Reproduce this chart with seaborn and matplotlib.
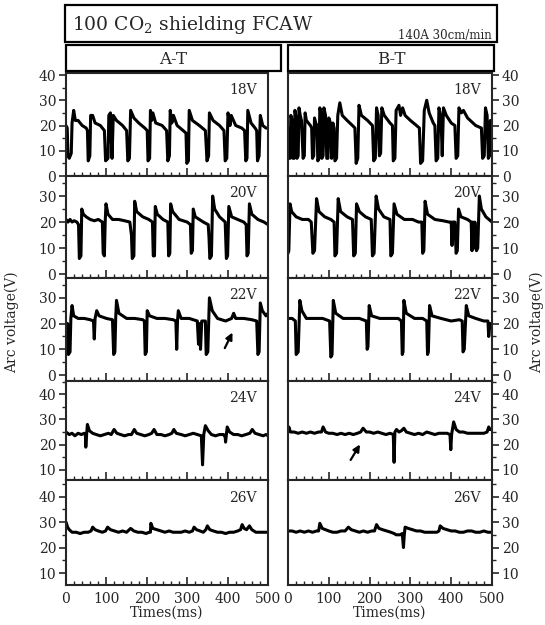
# arc voltage waveforms, A-T vs B-T wire, 18-26V
import matplotlib
matplotlib.use('Agg')
import matplotlib.pyplot as plt
from matplotlib.patches import Rectangle
from matplotlib.ticker import MultipleLocator
import seaborn as sns

sns.set_style('ticks')
plt.rcParams['font.family'] = ['DejaVu Serif']
plt.rcParams['mathtext.fontset'] = 'dejavuserif'

#%% data (time ms, voltage V)
volt_labels = ['18V', '20V', '22V', '24V', '26V']

a18 = [(0,20),(3,19),(5,8),(8,7),(13,9),(15,21),(19,26),(23,22),(30,22),(40,20),(50,19),(53,18),(55,6),(59,8),
       (61,24),(66,24),(72,21),(85,20),(95,18),(98,6),(104,7),(106,24),(110,25),(112,15),(114,7),(117,24),(125,22),
       (140,20),(150,18),(153,6),(157,7),(160,26),(168,23),(180,21),(195,19),(201,18),(203,6),(207,7),(209,26),
       (212,22),(215,25),(222,21),(238,20),(249,18),(252,6),(256,8),(258,26),(262,21),(266,24),(275,20),(290,18),
       (297,17),(299,5),(303,6),(305,26),(313,22),(330,20),(345,18),(349,6),(353,8),(355,25),(364,22),(380,20),
       (391,18),(394,6),(398,7),(401,25),(406,20),(409,24),(420,20),(435,19),(442,18),(445,6),(448,7),(450,26),
       (458,21),(468,19),(472,18),(474,6),(478,8),(481,24),(487,20),(495,19),(500,19)]

b18 = [(0,19),(2,7),(5,7),(7,24),(10,22),(12,7),(15,7),(17,26),(20,23),(22,7),(25,8),(27,27),(30,24),(33,22),
       (37,7),(40,8),(42,25),(45,22),(50,21),(55,20),(58,19),(60,7),(63,8),(65,23),(68,21),(71,20),(73,6),(76,7),
       (78,27),(81,25),(83,7),(86,8),(88,27),(92,24),(95,7),(98,7),(100,23),(104,21),(107,7),(110,21),(113,19),
       (115,6),(119,7),(122,24),(127,29),(133,24),(145,22),(158,20),(164,19),(167,5),(171,7),(174,28),(180,24),
       (195,22),(207,20),(210,6),(214,7),(217,27),(221,24),(224,8),(227,9),(230,27),(236,24),(250,21),(256,20),
       (258,6),(262,7),(265,26),(272,28),(276,24),(281,27),(287,24),(300,22),(315,20),(322,19),(325,5),(330,6),
       (334,26),(340,30),(346,25),(356,21),(360,20),(363,6),(367,7),(370,27),(375,23),(378,8),(381,27),(388,24),
       (400,21),(409,20),(412,7),(416,8),(419,27),(425,25),(430,26),(440,23),(460,20),(474,19),(477,7),(481,8),
       (484,27),(488,24),(491,7),(494,8),(496,22),(500,20)]

a20 = [(0,21),(5,20),(10,21),(15,20),(20,20.5),(27,20),(31,19),(33,6),(37,7),(39,25),(43,23),(50,22),(60,21),
       (70,20.5),(80,21),(90,20),(92,8),(95,7),(97,20),(99,27),(104,23),(115,21),(130,21),(145,20.5),(158,20),
       (162,15),(164,6),(168,7),(170,28),(175,24),(190,22),(205,21),(214,20),(216,7),(219,7),(221,26),(226,23),
       (240,21),(252,20),(254,7),(257,8),(259,27),(264,24),(280,21),(300,20),(308,19),(310,8),(313,9),(315,25),
       (320,22),(340,20),(352,19),(354,14),(356,6),(360,7),(363,30),(368,25),(380,22),(394,20),(397,6),(400,7),
       (403,26),(410,22),(425,21),(440,20),(446,19),(448,7),(451,8),(454,27),(460,23),(475,21),(490,20),(500,19)]

b20 = [(0,8),(2,9),(5,27),(9,24),(20,22),(35,21),(50,21),(57,20),(61,8),(65,9),(70,29),(76,24),(90,22),(105,21),
       (113,20),(115,7),(119,8),(123,29),(129,24),(145,22),(158,21),(161,7),(165,8),(168,27),(175,24),(190,22),
       (204,21),(207,7),(211,8),(216,30),(222,25),(235,22),(250,21),(252,7),(256,8),(260,27),(267,23),(285,21),
       (305,21),(320,20),(328,20),(330,8),(333,9),(336,28),(342,23),(360,21),(380,20.5),(395,20),(400,20),
       (402,11),(404,20),(409,20),(412,8),(415,9),(418,25),(424,22),(440,21),(449,20),(451,9),(453,20),(456,10),
       (458,20),(462,9),(465,10),(469,30),(474,25),(485,22),(500,20)]

a22 = [(0,20),(4,20),(6,8),(10,9),(12,22),(15,27),(19,23),(30,22),(45,22),(60,21.5),(68,21),(70,14),(72,22),
       (76,25),(82,23),(100,22),(115,21.5),(118,8),(121,9),(123,22),(125,29),(131,24),(150,22),(170,22),
       (190,21.5),(194,21),(196,8),(199,9),(201,25),(207,23),(225,22),(245,22),(265,21.5),(272,21),(274,10),
       (276,21),(278,25),(285,22),(305,22),(325,21),(328,12),(330,20),(333,10),(336,21),(345,21),(347,8),(351,9),
       (355,30),(362,25),(375,22),(395,21),(410,22),(415,24),(420,22),(440,22),(460,21.5),(472,21),(475,8),
       (478,9),(481,28),(486,25),(495,23),(500,24)]

b22 = [(0,22),(10,22),(18,21),(20,8),(25,9),(29,29),(34,25),(45,22),(65,22),(85,22),(102,21),(105,7),(108,8),
       (111,29),(117,24),(135,22),(155,22),(175,22),(192,21),(194,10),(196,11),(199,27),(205,23),(225,22),
       (250,22),(270,22),(278,21),(280,8),(282,9),(284,29),(290,24),(310,22),(330,22),(340,21),(342,8),(344,9),
       (347,27),(353,23),(375,22),(400,21),(420,21.5),(427,21),(429,9),(432,10),(437,27),(443,23),(460,22),
       (480,21),(490,21),(492,15),(495,20),(500,20)]

a24 = [(0,25),(8,24),(15,24.5),(22,23.5),(30,24.5),(38,24),(45,24.5),(48,24),(49,19),(51,24),(53,28),(58,25.5),
       (66,24.5),(75,24),(85,23.5),(95,24),(105,24.5),(112,24),(119,26),(126,24.5),(135,24),(145,23.5),(155,24),
       (162,24),(169,26),(175,24.5),(185,24),(195,23.5),(205,24),(212,24.5),(218,26),(225,24),(235,24),
       (245,23.5),(255,24),(262,24.5),(267,26),(273,24.5),(285,24),(295,23.5),(305,24),(315,24.5),(325,24),
       (335,23.5),(338,12),(341,24),(345,27.5),(352,25.5),(360,24),(370,23.5),(380,24),(390,24),(394,23),
       (395,21),(397,24),(399,27),(405,25),(415,24),(425,24),(435,23.5),(445,24),(455,24.5),(461,26),(468,24.5),
       (478,24),(488,23.5),(495,24),(500,23.5)]

b24 = [(0,25),(2,27),(6,25),(15,25),(25,24.5),(35,25),(45,24.5),(55,25),(65,24.5),(75,25),(82,25),(86,27),
       (92,25),(100,24.5),(110,24.5),(120,24),(130,24.5),(140,24),(150,24.5),(160,24),(170,24.5),(178,25),
       (184,26.5),(192,25),(200,25),(210,24.5),(220,25),(230,24.5),(240,24),(250,24.5),(258,24),(260,13),
       (262,25),(266,26),(272,25),(278,25.5),(284,26.5),(290,25),(300,24.5),(310,24),(320,24.5),(330,24),
       (340,25),(350,24.5),(360,24),(370,24.5),(380,24.5),(390,24.5),(397,24),(399,18),(401,24),(406,29),
       (412,26),(420,25),(430,25),(440,24.5),(450,24.5),(460,24.5),(470,24.5),(480,24.5),(488,25),(492,27),
       (495,26),(500,26)]

a26 = [(0,30),(4,28),(8,27),(15,26),(25,26),(35,25.5),(45,26),(55,26),(62,26.5),(66,28),(72,27),(80,26.5),
       (90,26),(98,26.5),(103,28),(110,27),(120,26.5),(130,26),(140,26.5),(150,26),(160,27.5),(168,26.5),
       (178,26),(188,26),(198,25.5),(206,26),(209,26),(210,29.5),(215,27.5),(225,27),(235,26.5),(245,26),
       (255,26.5),(265,26),(275,26),(285,26),(295,26.5),(305,26),(313,26.5),(317,28),(323,27),(332,26.5),
       (340,26),(346,27),(350,28.5),(356,27),(365,26.5),(375,26),(385,26),(395,25.5),(405,26),(415,26),
       (425,26.5),(432,27),(436,29),(441,27.5),(447,27),(454,28.5),(460,27),(470,26),(480,26),(490,26),(500,26)]

b26 = [(0,26.5),(10,26.5),(20,26),(30,26.5),(40,26),(50,26.5),(60,26),(70,26.5),(75,26.5),(78,29.5),(84,27.5),
       (92,27),(100,26.5),(110,26),(120,26),(130,26.5),(140,26.5),(148,28),(155,27),(165,26.5),(175,26),
       (185,26.5),(195,26),(205,26.5),(212,26.5),(217,29),(223,27.5),(232,27),(242,26.5),(252,26),(260,25.5),
       (265,25),(275,25),(280,25.5),(283,20),(285,25),(287,28),(295,27.5),(305,27),(315,26.5),(325,26.5),
       (335,26),(345,26),(355,26),(365,26),(370,26.5),(373,28.5),(380,27.5),(390,27),(400,26.5),(410,26.5),
       (420,26),(430,26),(440,26.5),(450,26.5),(460,26),(470,26),(480,26.5),(490,26),(500,26)]

traces_A = [a18, a20, a22, a24, a26]
traces_B = [b18, b20, b22, b24, b26]

row_yticks = [[0, 10, 20, 30, 40], [0, 10, 20, 30], [0, 10, 20, 30], [10, 20, 30, 40], [10, 20, 30, 40]]
row_ylims = [(0, 40.8), (-1.5, 37.7), (-2.3, 37.7), (6, 45.2), (5.3, 46.5)]

#%% layout in pixels
W, H = 545, 625
fig = plt.figure(figsize=(5.45, 6.25), dpi=100)

def px_axes(x0, y0, x1, y1):
    return fig.add_axes([x0 / W, 1 - y1 / H, (x1 - x0) / W, (y1 - y0) / H])

def px_box(x0, y0, x1, y1):
    fig.patches.append(Rectangle((x0 / W, 1 - y1 / H), (x1 - x0) / W, (y1 - y0) / H,
                                 transform=fig.transFigure, fill=False, lw=1.6, ec='black'))

rows = [(73, 176), (176, 278), (278, 381), (381, 480), (480, 585)]
cols = [(66, 268), (288, 492)]

axes = {}
for c, (x0, x1) in enumerate(cols):
    traces = traces_A if c == 0 else traces_B
    for r, (y0, y1) in enumerate(rows):
        ax = px_axes(x0, y0, x1, y1)
        t = [p[0] for p in traces[r]]
        v = [p[1] for p in traces[r]]
        sns.lineplot(x=t, y=v, ax=ax, color='black', lw=2.2, estimator=None, sort=False)
        ax.set_xlim(0, 500)
        ax.set_ylim(*row_ylims[r])
        ax.set_xlabel('')
        ax.set_ylabel('')
        ax.set_yticks(row_yticks[r])
        ax.yaxis.set_minor_locator(MultipleLocator(5))
        ax.xaxis.set_major_locator(MultipleLocator(100))
        ax.xaxis.set_minor_locator(MultipleLocator(20))
        ax.tick_params(axis='x', which='major', direction='in', length=6, width=1.2, labelsize=10, pad=5,
                       bottom=True, top=False, labelbottom=(r == 4))
        ax.tick_params(axis='x', which='minor', direction='in', length=3, width=1, bottom=True, top=False)
        if c == 0:
            ax.tick_params(axis='y', which='both', left=True, right=False, labelleft=True, labelright=False)
        else:
            ax.tick_params(axis='y', which='both', left=False, right=True, labelleft=False, labelright=True)
        ax.tick_params(axis='y', which='major', direction='out', length=5, width=1.2, labelsize=10, pad=2)
        ax.tick_params(axis='y', which='minor', direction='out', length=3, width=1)
        for s in ax.spines.values():
            s.set_linewidth(1.5)
        ax.text(0.945, 0.9, volt_labels[r], transform=ax.transAxes, ha='right', va='top', fontsize=10)
        axes[(r, c)] = ax

# arrows
axes[(2, 0)].annotate('', xy=(415, 17.5), xytext=(390, 9.5),
                      arrowprops=dict(arrowstyle='-|>', color='black', lw=1.6, mutation_scale=10))
axes[(3, 1)].annotate('', xy=(180, 21), xytext=(150, 13),
                      arrowprops=dict(arrowstyle='-|>', color='black', lw=1.6, mutation_scale=10))

#%% header boxes and labels
px_box(65, 5, 497, 42)
fig.text(72 / W, 1 - 25 / H, '100 CO$_2$ shielding FCAW', fontsize=13.5, va='center', ha='left')
fig.text(492 / W, 1 - 35 / H, '140A 30cm/min', fontsize=8.5, va='center', ha='right')

px_box(66, 45, 281, 71)
px_box(288, 45, 494, 71)
fig.text(173 / W, 1 - 60 / H, 'A-T', fontsize=12, va='center', ha='center')
fig.text(391 / W, 1 - 60 / H, 'B-T', fontsize=12, va='center', ha='center')

fig.text(12 / W, 1 - 322 / H, 'Arc voltage(V)', rotation=90, va='center', ha='center', fontsize=10)
fig.text(537 / W, 1 - 322 / H, 'Arc voltage(V)', rotation=90, va='center', ha='center', fontsize=10)
fig.text(167 / W, 1 - 613 / H, 'Times(ms)', va='center', ha='center', fontsize=10)
fig.text(390 / W, 1 - 613 / H, 'Times(ms)', va='center', ha='center', fontsize=10)

plt.savefig('out.png', dpi=100)
